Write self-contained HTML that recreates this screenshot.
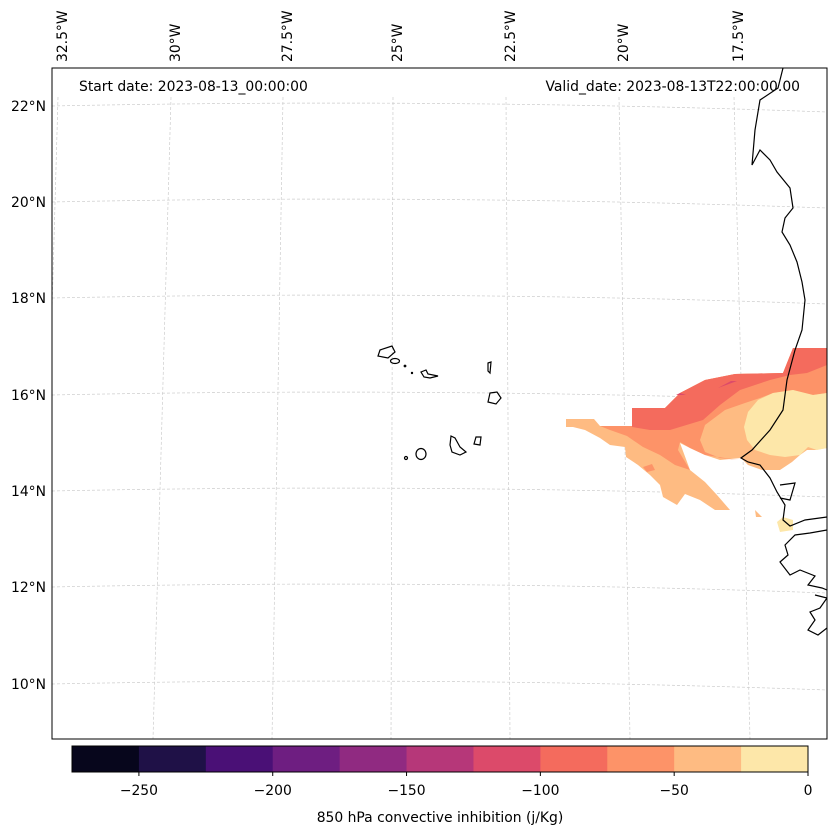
<!DOCTYPE html>
<html><head><meta charset="utf-8"><style>
body{margin:0;background:#fff;}
svg{display:block;font-family:"DejaVu Sans","Liberation Sans",sans-serif;}
</style></head><body>
<svg id="fig" width="837" height="836" viewBox="0 0 837 836">
<defs><clipPath id="mapclip"><rect x="52" y="68" width="775" height="671"/></clipPath></defs>
<rect x="0" y="0" width="837" height="836" fill="#fff"/>
<g id="grid" clip-path="url(#mapclip)" stroke="#cccccc" stroke-width="0.7" stroke-dasharray="3,2" fill="none"></g>
<g clip-path="url(#mapclip)">
  <polygon fill="#febb82" points="566,419 594,419 600,426 632,426 632,408 665,408 680,393 705,380 735,374 783,373 793,348 827,348 827,448 815,450 807,450 800,455 792,462 780,470 762,470 748,465 741,458 720,460 705,455 690,448 680,443 690,470 705,482 717,495 730,510 715,510 700,500 685,494 677,505 663,497 660,485 650,475 638,465 626,457 625,447 610,445 600,438 585,430 573,427 566,427"/>
  <polygon fill="#febb82" points="755,510 762,517 756,517"/>
  <polygon fill="#fd9368" points="600,426 632,426 632,408 665,408 680,393 705,380 735,374 783,373 793,348 827,348 827,393 813,395 793,390 773,393 760,398 745,403 725,410 705,425 700,440 705,452 720,458 738,460 705,455 690,448 680,442 678,450 690,470 675,465 660,455 643,447 627,436 610,430"/>
  <polygon fill="#fd9368" points="643,467 652,464 655,470 647,472"/>
  <polygon fill="#f46b5d" points="632,426 632,408 665,408 680,393 705,380 735,374 783,373 793,348 827,348 827,365 807,373 790,375 770,380 755,385 740,390 720,405 703,420 670,430 650,430 632,427"/>
  <polygon fill="#dc4a6a" points="676,395 680,393 686,395"/>
  <polygon fill="#dc4a6a" points="718,388 731,381 737,381"/>
  <polygon fill="#fde7a9" points="758,400 773,393 793,390 813,395 827,393 827,448 817,450 808,447 800,455 785,457 770,455 755,450 747,440 744,427 748,412"/>
  <polygon fill="#fde7a9" points="777,522 783,517 793,520 793,530 780,532"/>
</g>
<g clip-path="url(#mapclip)" fill="none" stroke="#000" stroke-width="1.2">
  <polyline points="783,68 778,88 760,100 755,130 752,165 760,150 770,160 777,172 790,188 793,208 785,218 782,232 790,245 797,262 802,282 805,300 802,330 795,350 787,380 783,410 770,430 752,450 741,458 748,462 760,465 770,478 777,492 785,505 783,520 790,526 805,520 827,517"/>
  <polyline points="827,530 810,533 795,535 785,545 788,555 780,562 790,575 800,570 815,576 808,585 822,588 827,590"/>
  <polyline points="780,485 795,483 790,500 780,498"/>
  <polyline points="815,595 827,598 820,608 810,612 815,620 808,630 818,635 827,628"/>
  <path d="M380,350 L392,346 L395,352 L388,358 L378,356 Z"/>
  <ellipse cx="395" cy="361" rx="4.5" ry="2.5"/>
  <circle cx="405" cy="366" r="0.8"/>
  <circle cx="412" cy="373" r="0.6"/>
  <path d="M421,372 L426,370 L428,374 L438,376 L430,378 L424,377 Z"/>
  <path d="M488,363 L491,362 L490,373 L488,371 Z"/>
  <path d="M490,393 L497,392 L501,398 L496,404 L488,402 Z"/>
  <path d="M451,436 L455,438 L460,447 L466,452 L460,455 L452,452 L450,445 Z"/>
  <path d="M476,437 L481,437 L480,445 L474,444 Z"/>
  <ellipse cx="421" cy="454" rx="5" ry="5.5"/>
  <circle cx="406" cy="458" r="1.5"/>
</g>
<rect x="52" y="68" width="775" height="671" fill="none" stroke="#000" stroke-width="1"/>
<g id="latlabels" font-size="13.9" fill="#000"></g>
<g id="lonlabels" font-size="13.9" fill="#000"></g>
<text x="79" y="91" font-size="13.9">Start date: 2023-08-13_00:00:00</text>
<text x="800" y="91" font-size="13.9" text-anchor="end">Valid_date: 2023-08-13T22:00:00.00</text>
<g id="colorbar"></g>
<text x="440" y="822" font-size="13.9" text-anchor="middle">850 hPa convective inhibition (j/Kg)</text>
</svg>
<script>
const NS='http://www.w3.org/2000/svg';
const latValues=[22,20,18,16,14,12,10];
const latPixY=[106,202,298,395,491,587,684];
const lonLabels=['32.5°W','30°W','27.5°W','25°W','22.5°W','20°W','17.5°W'];
const lonTop=[58,171,283,393,506,619,734];
const lonBot=[40,153,272,391,510,630,750];
const cbLevels=[-275,-250,-225,-200,-175,-150,-125,-100,-75,-50,-25,0];
const cbColors=['#07061c','#1f1147','#4a1076','#6e1e81','#902a81','#b63779','#dc4a6a','#f46b5d','#fd9368','#febb82','#fde7a9'];
const cbTicks=[-250,-200,-150,-100,-50,0];

const grid=document.getElementById('grid');
latPixY.forEach((y,i)=>{
  const p=document.createElementNS(NS,'path');
  p.setAttribute('d',`M52,${y} Q440,${y-8} 827,${y+6}`);
  
  
  grid.appendChild(p);
  const t=document.createElementNS(NS,'text');
  t.setAttribute('x',46);t.setAttribute('y',y+5);t.setAttribute('text-anchor','end');
  t.textContent=latValues[i]+'°N';
  
  
  document.getElementById('latlabels').appendChild(t);
});
lonTop.forEach((x,i)=>{
  const l=document.createElementNS(NS,'line');
  l.setAttribute('x1',x);l.setAttribute('y1',97);l.setAttribute('x2',lonBot[i]);l.setAttribute('y2',739);
  
  
  grid.appendChild(l);
  const t=document.createElementNS(NS,'text');
  const tx=x+9, ty=62;
  t.setAttribute('x',tx);t.setAttribute('y',ty);
  t.setAttribute('transform',`rotate(-90 ${tx} ${ty})`);
  t.textContent=lonLabels[i];
  
  
  document.getElementById('lonlabels').appendChild(t);
});
const cb=document.getElementById('colorbar');
const cx0=72,cx1=808,cy=746,ch=26;
const sx=v=>cx0+(v-cbLevels[0])/(cbLevels[cbLevels.length-1]-cbLevels[0])*(cx1-cx0);
cbColors.forEach((c,i)=>{
  const r=document.createElementNS(NS,'rect');
  r.setAttribute('x',sx(cbLevels[i]));r.setAttribute('y',cy);
  r.setAttribute('width',sx(cbLevels[i+1])-sx(cbLevels[i])+0.5);r.setAttribute('height',ch);
  r.setAttribute('fill',c);
  
  
  cb.appendChild(r);
});
const fr=document.createElementNS(NS,'rect');
fr.setAttribute('x',cx0);fr.setAttribute('y',cy);fr.setAttribute('width',cx1-cx0);fr.setAttribute('height',ch);
fr.setAttribute('fill','none');fr.setAttribute('stroke','#000');


cb.appendChild(fr);
cbTicks.forEach(v=>{
  const x=sx(v);
  const l=document.createElementNS(NS,'line');
  l.setAttribute('x1',x);l.setAttribute('x2',x);l.setAttribute('y1',cy+ch);l.setAttribute('y2',cy+ch+4);
  l.setAttribute('stroke','#000');
  
  
  cb.appendChild(l);
  const t=document.createElementNS(NS,'text');
  t.setAttribute('x',x);t.setAttribute('y',795);t.setAttribute('text-anchor','middle');t.setAttribute('font-size','13.9');
  t.textContent=v<0?'\u2212'+Math.abs(v):String(v);
  
  
  cb.appendChild(t);
});
</script>
</body></html>
